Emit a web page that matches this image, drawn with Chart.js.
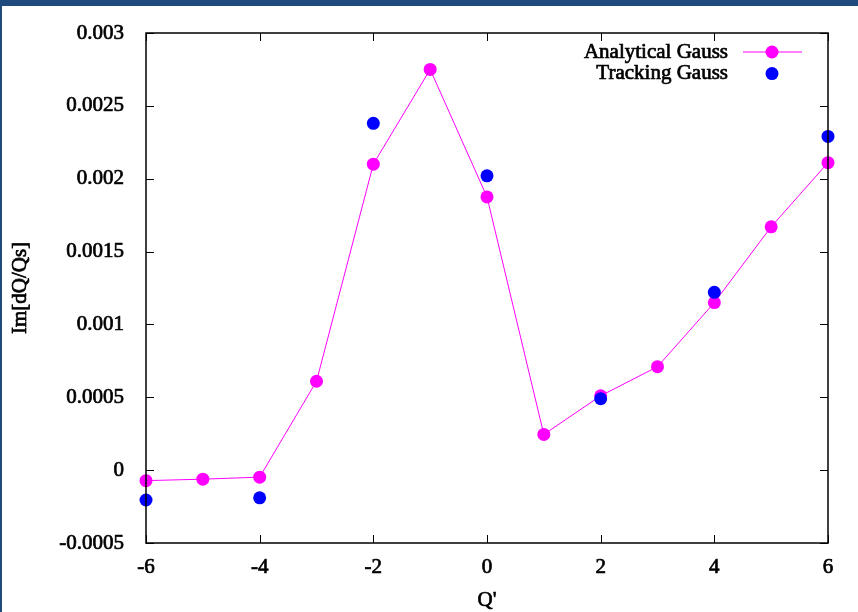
<!DOCTYPE html>
<html>
<head>
<meta charset="utf-8">
<script src="https://cdn.jsdelivr.net/npm/chart.js@4/dist/chart.umd.min.js"></script>
<style>
  html, body { margin:0; padding:0; background:#fff; }
  #wrap { width:858px; height:612px; box-sizing:border-box; border-top:6px solid #1f4a7e; border-left:2px solid #1f4a7e; position:relative; }
  #wrap canvas { display:block; }
</style>
</head>
<body>
<div id="wrap"><canvas id="grafico"></canvas></div>
<script>
// Q' chromaticity values and Im[dQ/Qs]
const qPrime = [-6, -5, -4, -3, -2, -1, 0, 1, 2, 3, 4, 5, 6];
const analytical = [-0.000072, -0.000062, -0.000048, 0.00061, 0.0021, 0.00275, 0.001875, 0.000245, 0.00051, 0.00071, 0.00115, 0.00167, 0.00211];
const qTracking = [-6, -4, -2, 0, 2, 4, 6];
const tracking = [-0.000205, -0.00019, 0.00238, 0.00202, 0.00049, 0.00122, 0.00229];

// tick labels
const xTicks = [-6, -4, -2, 0, 2, 4, 6];
const yTicks = [-0.0005, 0, 0.0005, 0.001, 0.0015, 0.002, 0.0025, 0.003];
const yTickLabels = ['-0.0005', '0', '0.0005', '0.001', '0.0015', '0.002', '0.0025', '0.003'];

const FONT = "'Liberation Serif', 'Times New Roman', serif";
const STROKE = 0.7; // gnuplot text looks a bit heavier than plain regular
Chart.defaults.color = '#000';
Chart.defaults.font.family = FONT;
Chart.defaults.font.size = 21;

// gnuplot style frame with inward ticks on all four sides
const frame = {
  id: 'frame',
  afterDatasetsDraw(chart) {
    const {ctx, chartArea: a, scales: {x, y}} = chart;
    ctx.save();
    ctx.strokeStyle = '#000';
    ctx.lineWidth = 1.5;
    ctx.strokeRect(a.left, a.top, a.right - a.left, a.bottom - a.top);
    ctx.lineWidth = 1;
    ctx.beginPath();
    xTicks.forEach(v => {
      const px = Math.round(x.getPixelForValue(v)) + 0.5;
      ctx.moveTo(px, a.bottom); ctx.lineTo(px, a.bottom - 8);
      ctx.moveTo(px, a.top); ctx.lineTo(px, a.top + 8);
    });
    yTicks.forEach(v => {
      const py = Math.round(y.getPixelForValue(v)) + 0.5;
      ctx.moveTo(a.left, py); ctx.lineTo(a.left + 8, py);
      ctx.moveTo(a.right, py); ctx.lineTo(a.right - 8, py);
    });
    ctx.stroke();
    ctx.restore();
  }
};

// key in the top right corner and axis titles, text drawn with a light stroke
const key = {
  id: 'key',
  afterDraw(chart) {
    const {ctx, chartArea: a} = chart;
    const textRight = a.right - 100, px = a.right - 56;
    ctx.save();
    ctx.font = '21px ' + FONT;
    ctx.lineWidth = STROKE;
    ctx.strokeStyle = '#000';
    ctx.fillStyle = '#000';
    ctx.textBaseline = 'middle';
    ctx.textAlign = 'center';
    const t = chart.options.scales;
    ctx.fillText(t.x.titleText, (a.left + a.right) / 2, chart.height - 12);
    ctx.strokeText(t.x.titleText, (a.left + a.right) / 2, chart.height - 12);
    ctx.save();
    ctx.translate(18, (a.top + a.bottom) / 2);
    ctx.rotate(-Math.PI / 2);
    ctx.fillText(t.y.titleText, 0, 0);
    ctx.strokeText(t.y.titleText, 0, 0);
    ctx.restore();
    ctx.textAlign = 'right';
    chart.data.datasets.forEach((ds, i) => {
      const yy = a.top + 19 + i * 21.6;
      ctx.fillStyle = '#000';
      ctx.strokeStyle = '#000';
      ctx.lineWidth = STROKE;
      ctx.fillText(ds.label, textRight, yy);
      ctx.strokeText(ds.label, textRight, yy);
      if (ds.showLine !== false) {
        ctx.strokeStyle = ds.borderColor;
        ctx.lineWidth = 1;
        ctx.beginPath();
        ctx.moveTo(a.right - 85, yy); ctx.lineTo(a.right - 26, yy);
        ctx.stroke();
      }
      ctx.fillStyle = ds.pointBackgroundColor;
      ctx.beginPath();
      ctx.arc(px, yy, 6.5, 0, Math.PI * 2);
      ctx.fill();
    });
    ctx.restore();
  }
};

new Chart(document.getElementById('grafico').getContext('2d'), {
  type: 'scatter',
  data: { datasets: [
    { label: 'Analytical Gauss', data: qPrime.map((q, i) => ({x: q, y: analytical[i]})),
      showLine: true, borderColor: '#ff00ff', borderWidth: 1, pointBackgroundColor: '#ff00ff',
      pointBorderWidth: 0, pointRadius: 6.5, clip: false, order: 1 },
    { label: 'Tracking Gauss', data: qTracking.map((q, i) => ({x: q, y: tracking[i]})),
      showLine: false, borderColor: '#0000ff', pointBackgroundColor: '#0000ff',
      pointBorderWidth: 0, pointRadius: 6.5, clip: false, order: 0 }
  ]},
  options: {
    responsive: true, maintainAspectRatio: false, animation: false,
    layout: { padding: { left: 0, top: 27, right: 30, bottom: 0 } },
    plugins: { legend: { display: false }, tooltip: { enabled: false } },
    scales: {
      x: {
        type: 'linear', min: -6, max: 6, titleText: "Q'",
        afterBuildTicks: s => { s.ticks = xTicks.map(v => ({value: v})); },
        afterFit: s => { s.height = 69; },
        grid: { display: false }, border: { display: false },
        ticks: { padding: 4, maxRotation: 0, textStrokeColor: '#000', textStrokeWidth: STROKE }
      },
      y: {
        type: 'linear', min: -0.0005, max: 0.003, titleText: 'Im[dQ/Qs]',
        afterBuildTicks: s => { s.ticks = yTicks.map(v => ({value: v})); },
        afterFit: s => { s.width = 144; },
        grid: { display: false }, border: { display: false },
        ticks: { padding: 14, textStrokeColor: '#000', textStrokeWidth: STROKE,
          callback: (v) => yTickLabels[yTicks.findIndex(t => Math.abs(t - v) < 1e-9)] }
      }
    }
  },
  plugins: [frame, key]
});
</script>
</body>
</html>
